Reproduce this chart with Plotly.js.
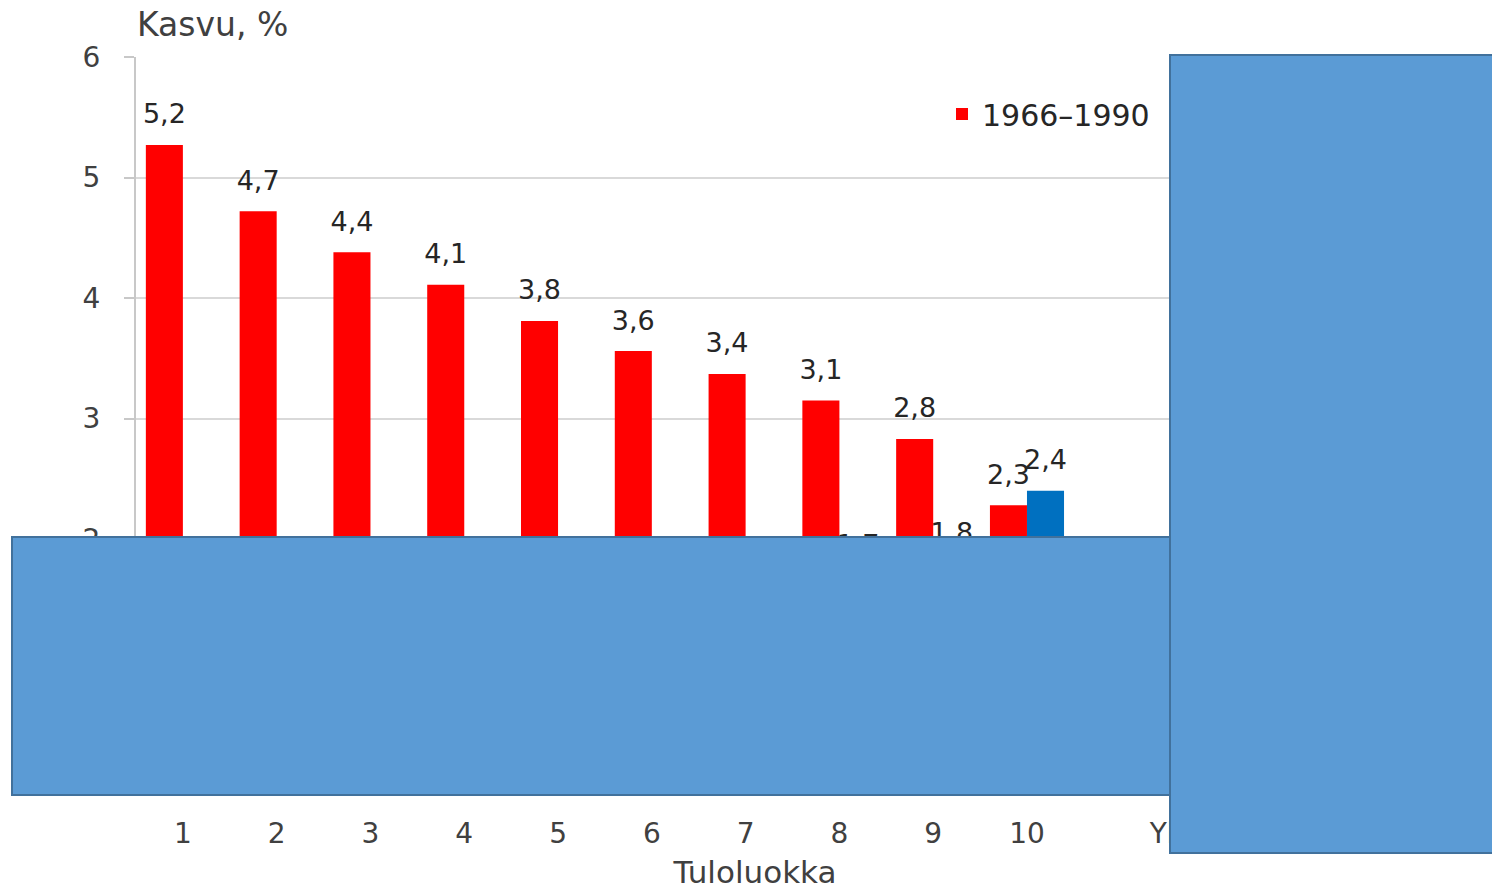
<!DOCTYPE html>
<html>
<head>
<meta charset="utf-8">
<script src="https://cdn.plot.ly/plotly-3.0.1.min.js"></script>
<style>
  html, body { margin: 0; padding: 0; background: #ffffff; }
  #chart { width: 1492px; height: 890px; }
</style>
</head>
<body>
<div id="chart"></div>
<script>
// ---- data ----
var categories = ['1', '2', '3', '4', '5', '6', '7', '8', '9', '10', ' ', 'Yhteensä'];
var series1Name = '1966–1990';
var series2Name = 'Jakso 2';
var series1Values = [5.27, 4.72, 4.38, 4.11, 3.81, 3.56, 3.37, 3.15, 2.83, 2.28, null, 3.6];
var series1Labels = ['5,2', '4,7', '4,4', '4,1', '3,8', '3,6', '3,4', '3,1', '2,8', '2,3', '', '3,6'];
var series2Values = [1.3, 1.4, 1.5, 1.5, 1.5, 1.6, 1.6, 1.7, 1.8, 2.4, null, 1.7];
var yTickValues = [0, 1, 2, 3, 4, 5, 6];
var chartTitle = 'Kasvu, %';
var xTitle = 'Tuloluokka';

// ---- helpers ----
function fmt(v) { return (v === null) ? '' : v.toFixed(1).replace('.', ','); }
var series2Labels = series2Values.map(fmt);

var FONT = 'DejaVu Sans, sans-serif';
var W = 1492, H = 890;
var M = { l: 136, r: 118, t: 57, b: 110 };
var plotW = W - M.l - M.r, plotH = H - M.t - M.b;
function px2x(px) { return (px - M.l) / plotW; }
function px2y(py) { return (H - M.b - py) / plotH; }
var GAP = 0.21;

var traces = [
  {
    type: 'bar', name: series1Name, x: categories, y: series1Values,
    marker: { color: '#FF0000' }, hoverinfo: 'skip'
  },
  {
    type: 'bar', name: series2Name, x: categories, y: series2Values,
    marker: { color: '#0070C0' }, showlegend: false, hoverinfo: 'skip'
  },
  {
    type: 'scatter', mode: 'markers+text', x: categories, y: series1Values,
    text: series1Labels, textposition: 'top center',
    textfont: { family: FONT, size: 27, color: '#262626' },
    marker: { size: 22, opacity: 0, color: '#ffffff' },
    showlegend: false, hoverinfo: 'skip', cliponaxis: false
  },
  {
    type: 'scatter', mode: 'markers+text', x: categories, y: series2Values,
    text: series2Labels, textposition: 'top center',
    textfont: { family: FONT, size: 27, color: '#262626' },
    marker: { size: 22, opacity: 0, color: '#ffffff' },
    showlegend: false, hoverinfo: 'skip', cliponaxis: false
  }
];

var boxFill = '#5B9BD5', boxLine = '#41719C';
var layout = {
  width: W, height: H, autosize: false,
  margin: { l: M.l, r: M.r, t: M.t, b: M.b, pad: 0 },
  paper_bgcolor: '#ffffff', plot_bgcolor: '#ffffff',
  font: { family: FONT, color: '#404040' },
  separators: ', ',
  barmode: 'group', bargap: GAP, bargroupgap: 0,
  scattermode: 'group', scattergap: GAP,
  title: {
    text: chartTitle, font: { family: FONT, size: 33, color: '#404040' },
    xref: 'container', x: 137 / W, xanchor: 'left',
    yref: 'container', y: 1 - 24 / H, yanchor: 'middle'
  },
  xaxis: {
    type: 'category', categoryorder: 'array', categoryarray: categories,
    range: [-0.5, 12.7], fixedrange: true,
    showgrid: false, zeroline: false, showline: false,
    tickson: 'boundaries', ticks: 'outside', ticklen: 6, tickwidth: 1, tickcolor: '#d0d0d0',
    tickangle: 0,
    tickfont: { family: FONT, size: 28, color: '#404040' },
    ticklabelstandoff: 34,
    title: { text: xTitle, font: { family: FONT, size: 31, color: '#404040' }, standoff: 12 }
  },
  yaxis: {
    range: [0, 6], tickvals: yTickValues, fixedrange: true,
    showgrid: true, gridcolor: '#d9d9d9', gridwidth: 2,
    zeroline: false, showline: true, linecolor: '#c8c8c8', linewidth: 2,
    ticks: 'outside', ticklen: 10, tickwidth: 2, tickcolor: '#c8c8c8',
    tickfont: { family: FONT, size: 28, color: '#404040' },
    ticklabelstandoff: 18
  },
  legend: {
    x: px2x(942), y: px2y(88), xanchor: 'left', yanchor: 'top',
    bgcolor: 'rgba(0,0,0,0)', font: { family: FONT, size: 30, color: '#262626' },
    itemwidth: 30
  },
  shapes: [
    {
      type: 'rect', xref: 'paper', yref: 'paper', layer: 'above',
      x0: px2x(12), x1: px2x(1170), y0: px2y(795), y1: px2y(537),
      fillcolor: boxFill, line: { color: boxLine, width: 2 }
    },
    {
      type: 'rect', xref: 'paper', yref: 'paper', layer: 'above',
      x0: px2x(1170), x1: px2x(1500), y0: px2y(853), y1: px2y(55),
      fillcolor: boxFill, line: { color: boxLine, width: 2 }
    }
  ]
};

Plotly.newPlot('chart', traces, layout, { displayModeBar: false, staticPlot: true });
</script>
</body>
</html>
